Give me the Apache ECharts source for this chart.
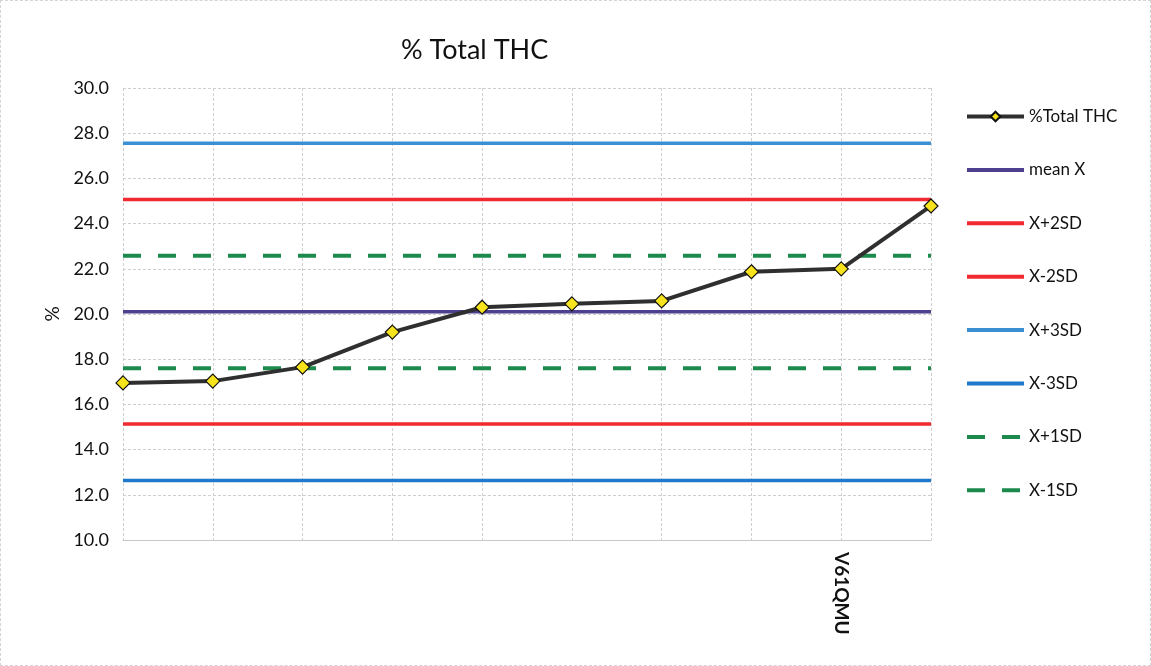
<!DOCTYPE html>
<html>
<head>
<meta charset="utf-8">
<script src="https://cdn.jsdelivr.net/npm/echarts@6/dist/echarts.min.js"></script>
<style>
html,body{margin:0;padding:0;background:#fff;}
#c{width:1151px;height:666px;box-sizing:border-box;border:1px dashed #d4d4d4;}
</style>
</head>
<body>
<div id="c"></div>
<script>
// Data
const categories = ['', '', '', '', '', '', '', '', 'V61QMU', ''];
const totalTHC = [16.95, 17.03, 17.65, 19.2, 20.3, 20.45, 20.58, 21.87, 22.0, 24.78];
const meanX = 20.1;
const plus1SD = 22.58, minus1SD = 17.6;
const plus2SD = 25.07, minus2SD = 15.13;
const plus3SD = 27.55, minus3SD = 12.63;
const yTicks = { min: 10, max: 30, interval: 2 };
const legendNames = ['%Total THC', 'mean X', 'X+2SD', 'X-2SD', 'X+3SD', 'X-3SD', 'X+1SD', 'X-1SD'];

const flat = v => categories.map(() => v);
const FONT = 'Lato, "Liberation Sans", sans-serif';

function refLine(name, value, color, dashed) {
  return {
    name: name,
    type: 'line',
    data: flat(value),
    symbol: 'none',
    silent: true,
    lineStyle: { color: color, width: dashed ? 4 : 3.5, type: dashed ? [18, 17] : 'solid' },
    itemStyle: { color: color },
    z: 2
  };
}

const chart = echarts.init(document.getElementById('c'));
chart.setOption({
  animation: false,
  backgroundColor: '#ffffff',
  title: {
    text: '% Total THC',
    left: 395, top: 31,
    textStyle: { fontFamily: FONT, fontSize: 27, fontWeight: 'normal', color: '#111' }
  },
  grid: { left: 122, right: 219, top: 87, bottom: 125, containLabel: false },
  legend: {
    orient: 'vertical',
    left: 959, top: 102,
    itemWidth: 57, itemHeight: 12,
    itemGap: 36.4,
    textStyle: { fontFamily: FONT, fontSize: 17, color: '#111' },
    data: legendNames.map((n, i) => i === 0 ? { name: n, lineStyle: { width: 4 } } : {
      name: n,
      itemStyle: { opacity: 0 },
      lineStyle: { width: 4 }
    })
  },
  xAxis: {
    type: 'category',
    data: categories,
    boundaryGap: false,
    axisLine: { show: true, lineStyle: { color: '#c8c8c8', width: 1 } },
    axisTick: { show: false },
    axisLabel: {
      interval: 0, rotate: -90, margin: 12,
      fontFamily: FONT, fontSize: 19, fontWeight: 'bold', color: '#111'
    },
    splitLine: { show: true, lineStyle: { color: '#cfcfcf', type: [3, 2], width: 1 } }
  },
  yAxis: {
    type: 'value',
    min: yTicks.min, max: yTicks.max, interval: yTicks.interval,
    name: '%', nameLocation: 'middle', nameGap: 50,
    nameTextStyle: { fontFamily: FONT, fontSize: 19, color: '#111' },
    axisLine: { show: false },
    axisTick: { show: false },
    axisLabel: {
      margin: 14, fontFamily: FONT, fontSize: 18, color: '#111',
      formatter: v => v.toFixed(1)
    },
    splitLine: { show: true, lineStyle: { color: '#cfcfcf', type: [3, 2], width: 1 } }
  },
  series: [
    {
      name: '%Total THC',
      type: 'line',
      data: totalTHC,
      symbol: 'diamond',
      symbolSize: 14,
      lineStyle: { color: '#2f2f2f', width: 4 },
      itemStyle: { color: '#f7e31c', borderColor: '#111', borderWidth: 1.2 },
      z: 5
    },
    refLine('mean X', meanX, '#4f3f8f', false),
    refLine('X+2SD', plus2SD, '#f02a30', false),
    refLine('X-2SD', minus2SD, '#f02a30', false),
    refLine('X+3SD', plus3SD, '#3b8fd3', false),
    refLine('X-3SD', minus3SD, '#1f78cc', false),
    refLine('X+1SD', plus1SD, '#1b8a4c', true),
    refLine('X-1SD', minus1SD, '#1b8a4c', true)
  ]
});
</script>
</body>
</html>
